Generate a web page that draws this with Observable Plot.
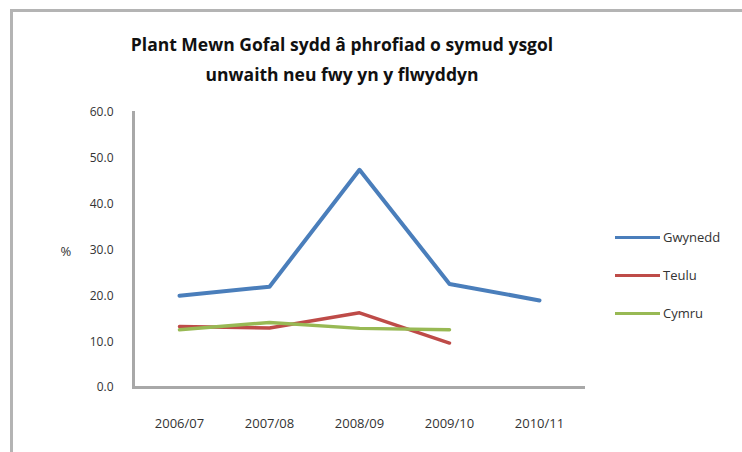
<!DOCTYPE html>
<html>
<head>
<meta charset="utf-8">
<script src="https://cdn.jsdelivr.net/npm/d3@7"></script>
<script src="https://cdn.jsdelivr.net/npm/@observablehq/plot@0.6"></script>
<style>
  html, body { margin: 0; padding: 0; background: #fff; }
  #wrap { position: relative; width: 742px; height: 452px; overflow: hidden; font-family: "Open Sans", sans-serif; }
  #border { position: absolute; left: 10px; top: 9px; width: 800px; height: 500px; border-left: 3px solid #b4b4b4; border-top: 3px solid #b4b4b4; box-sizing: border-box; }
  #title { position: absolute; left: 0; top: 29px; width: 684px; text-align: center; font-weight: bold; font-size: 17.5px; line-height: 30px; color: #111; }
  #chart { position: absolute; left: 0; top: 95px; }
  #legend { position: absolute; left: 615px; top: 218px; font-size: 13px; color: #333; }
  .item { display: flex; align-items: center; height: 38px; }
  .sw { width: 45px; height: 3px; margin-right: 3px; }
</style>
</head>
<body>
<div id="wrap">
  <div id="border"></div>
  <div id="title">Plant Mewn Gofal sydd â phrofiad o symud ysgol<br>unwaith neu fwy yn y flwyddyn</div>
  <div id="chart"></div>
  <div id="legend"></div>
</div>
<script>
const years = ["2006/07", "2007/08", "2008/09", "2009/10", "2010/11"];
const seriesNames = ["Gwynedd", "Teulu", "Cymru"];
const gwynedd = [20.0, 22.0, 47.5, 22.6, 19.0];
const teulu = [13.3, 13.0, 16.3, 9.7, null];
const cymru = [12.6, 14.2, 12.9, 12.6, null];
const colors = ["#4a7ebb", "#be4b48", "#98b954"];
const yTicks = [0, 10, 20, 30, 40, 50, 60];

const rows = [];
[gwynedd, teulu, cymru].forEach((vals, i) => {
  vals.forEach((v, j) => { if (v != null) rows.push({series: seriesNames[i], year: years[j], value: v}); });
});

const plot = Plot.plot({
  width: 742,
  height: 357,
  marginTop: 17,
  marginBottom: 65,
  marginLeft: 133,
  marginRight: 157,
  style: { fontFamily: "Open Sans, sans-serif", fontSize: "12px", color: "#333" },
  x: { type: "point", domain: years, padding: 0.5, label: null },
  y: { domain: [0, 60], ticks: yTicks, label: null },
  color: { domain: seriesNames, range: colors },
  marks: [
    Plot.axisY({ ticks: yTicks, tickSize: 0, tickPadding: 20, tickFormat: d => d.toFixed(1), fontSize: 12, fill: "#333" }),
    Plot.axisX({ tickSize: 0, tickPadding: 31, fontSize: 13, fill: "#333" }),
    Plot.frame({ anchor: "left", stroke: "#a8a8a8", strokeWidth: 3 }),
    Plot.ruleY([0], { stroke: "#a8a8a8", strokeWidth: 3 }),
    Plot.text(["%"], { frameAnchor: "left", dx: -73, dy: 2, fontSize: 13, fill: "#333" }),
    Plot.line(rows, { x: "year", y: "value", z: "series", stroke: "series", strokeWidth: d => d.series === "Gwynedd" ? 4 : 3.5 })
  ]
});
document.getElementById("chart").appendChild(plot);

const leg = document.getElementById("legend");
seriesNames.forEach((n, i) => {
  const it = document.createElement("div");
  it.className = "item";
  it.innerHTML = `<span class="sw" style="background:${colors[i]}"></span><span>${n}</span>`;
  leg.appendChild(it);
});
</script>
</body>
</html>
